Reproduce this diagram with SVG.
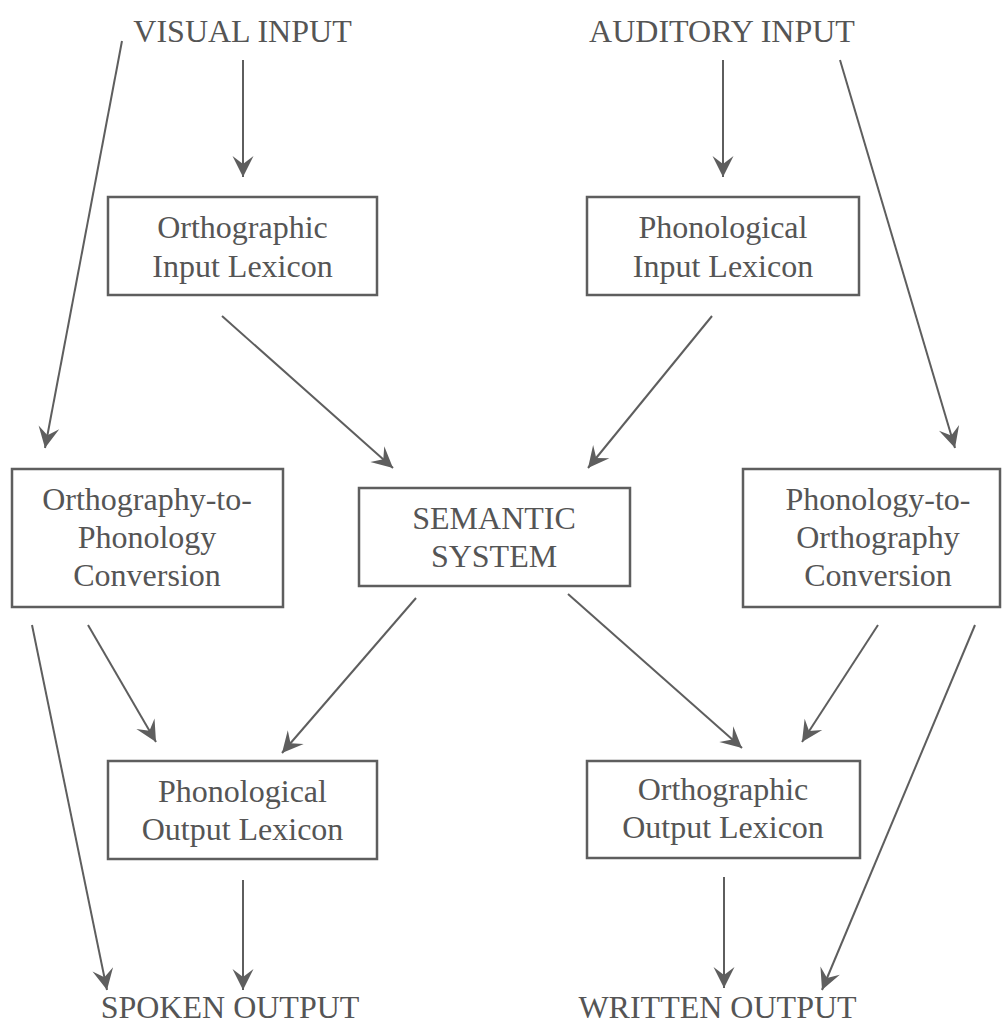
<svg xmlns="http://www.w3.org/2000/svg" width="1002" height="1026" viewBox="0 0 1002 1026">
<style>
text{font-family:"Liberation Serif","Times New Roman",serif;font-size:32px;fill:#555;text-anchor:middle}
.box{fill:#fff;stroke:#5e5e5e;stroke-width:2.5}
.c line{stroke:#5e5e5e;stroke-width:2;marker-end:url(#ah)}
</style>
<defs>
<marker id="ah" viewBox="-22 -12 24 24" refX="0" refY="0" markerWidth="24" markerHeight="24" markerUnits="userSpaceOnUse" orient="auto">
<path d="M0,0 L-21,-10.5 L-13,0 L-21,10.5 Z" fill="#5e5e5e"/>
</marker>
</defs>
<rect width="1002" height="1026" fill="#fff"/>
<g id="visual-input"><text x="242.5" y="42">VISUAL INPUT</text></g>
<g id="auditory-input"><text x="722" y="42">AUDITORY INPUT</text></g>
<g id="orthographic-input-lexicon"><rect class="box" x="108" y="197" width="269" height="98"/><text x="242.5" y="238">Orthographic</text><text x="242.5" y="277">Input Lexicon</text></g>
<g id="phonological-input-lexicon"><rect class="box" x="587" y="197" width="272" height="98"/><text x="723" y="238">Phonological</text><text x="723" y="277">Input Lexicon</text></g>
<g id="orthography-to-phonology"><rect class="box" x="12" y="469" width="271" height="138"/><text x="147" y="510">Orthography-to-</text><text x="147" y="548">Phonology</text><text x="147" y="586">Conversion</text></g>
<g id="semantic-system"><rect class="box" x="359" y="488" width="271" height="98"/><text x="494" y="529">SEMANTIC</text><text x="494" y="567">SYSTEM</text></g>
<g id="phonology-to-orthography"><rect class="box" x="743" y="469" width="257" height="138"/><text x="878" y="510">Phonology-to-</text><text x="878" y="548">Orthography</text><text x="878" y="586">Conversion</text></g>
<g id="phonological-output-lexicon"><rect class="box" x="108" y="761" width="269" height="98"/><text x="242.5" y="802">Phonological</text><text x="242.5" y="840">Output Lexicon</text></g>
<g id="orthographic-output-lexicon"><rect class="box" x="587" y="761" width="273" height="97"/><text x="723" y="800">Orthographic</text><text x="723" y="838">Output Lexicon</text></g>
<g id="spoken-output"><text x="230" y="1018">SPOKEN OUTPUT</text></g>
<g id="written-output"><text x="717.5" y="1018">WRITTEN OUTPUT</text></g>
<g id="connectors" class="c">
<line x1="243" y1="60" x2="243" y2="177"/>
<line x1="723" y1="60" x2="723" y2="177"/>
<line x1="122" y1="41" x2="45" y2="448"/>
<line x1="840" y1="60" x2="955" y2="448"/>
<line x1="222" y1="316" x2="393" y2="468"/>
<line x1="712" y1="316" x2="588" y2="468"/>
<line x1="32" y1="625" x2="107" y2="990"/>
<line x1="88" y1="625" x2="156" y2="742"/>
<line x1="416" y1="598" x2="282" y2="753"/>
<line x1="568" y1="594" x2="742" y2="748"/>
<line x1="878" y1="625" x2="802" y2="742"/>
<line x1="975" y1="625" x2="822" y2="990"/>
<line x1="243" y1="880" x2="243" y2="990"/>
<line x1="724" y1="877" x2="724" y2="988"/>
</g>
</svg>
